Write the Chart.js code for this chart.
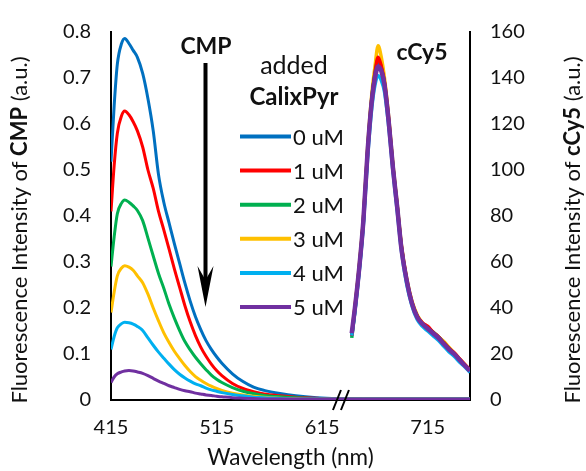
<!DOCTYPE html>
<html>
<head>
<meta charset="utf-8">
<script src="https://cdn.jsdelivr.net/npm/chart.js@4.4.0/dist/chart.umd.min.js"></script>
<style>
html,body{margin:0;padding:0;background:#fff;}
#wrap{position:relative;width:586px;height:471px;}
</style>
</head>
<body>
<div id="wrap"><canvas id="c" width="586" height="471"></canvas></div>
<script>
// ---- Data ----
const concLabels = ['0 uM', '1 uM', '2 uM', '3 uM', '4 uM', '5 uM'];
const colors = ['#0070C0', '#FF0000', '#00B050', '#FFC000', '#00B0F0', '#7030A0'];

// CMP emission (left axis)
const cmpWl = [415, 418, 421, 425, 428, 432, 436, 440, 445, 450, 455, 460, 465, 470, 475, 480, 485, 490, 495, 500, 505, 510, 515, 520, 530, 540, 550, 560, 575, 590, 610, 630, 660, 700, 755];
const cmp0uM = [0.518, 0.64, 0.73, 0.775, 0.786, 0.775, 0.76, 0.745, 0.71, 0.655, 0.585, 0.49, 0.43, 0.385, 0.34, 0.297, 0.254, 0.215, 0.181, 0.153, 0.129, 0.11, 0.094, 0.08, 0.057, 0.04, 0.028, 0.021, 0.014, 0.009, 0.005, 0.003, 0.002, 0.002, 0.002];
const cmp1uM = [0.41, 0.51, 0.58, 0.618, 0.628, 0.62, 0.605, 0.585, 0.55, 0.5, 0.46, 0.41, 0.37, 0.328, 0.285, 0.245, 0.205, 0.17, 0.14, 0.115, 0.095, 0.078, 0.064, 0.053, 0.036, 0.025, 0.018, 0.013, 0.009, 0.006, 0.004, 0.002, 0.002, 0.002, 0.002];
const cmp2uM = [0.29, 0.355, 0.405, 0.428, 0.435, 0.43, 0.422, 0.412, 0.39, 0.352, 0.313, 0.275, 0.243, 0.208, 0.178, 0.151, 0.127, 0.109, 0.093, 0.079, 0.066, 0.054, 0.045, 0.038, 0.027, 0.019, 0.014, 0.01, 0.007, 0.005, 0.003, 0.002, 0.002, 0.002, 0.002];
const cmp3uM = [0.19, 0.235, 0.27, 0.287, 0.292, 0.289, 0.282, 0.27, 0.255, 0.23, 0.2, 0.172, 0.146, 0.125, 0.106, 0.09, 0.075, 0.062, 0.051, 0.043, 0.036, 0.03, 0.025, 0.021, 0.015, 0.011, 0.008, 0.006, 0.004, 0.003, 0.002, 0.002, 0.002, 0.002, 0.002];
const cmp4uM = [0.11, 0.138, 0.157, 0.166, 0.169, 0.168, 0.165, 0.16, 0.151, 0.135, 0.119, 0.104, 0.091, 0.078, 0.066, 0.056, 0.048, 0.041, 0.035, 0.031, 0.026, 0.022, 0.019, 0.016, 0.012, 0.009, 0.006, 0.005, 0.003, 0.002, 0.002, 0.002, 0.002, 0.002, 0.002];
const cmp5uM = [0.038, 0.05, 0.057, 0.061, 0.063, 0.064, 0.063, 0.061, 0.058, 0.053, 0.047, 0.041, 0.036, 0.031, 0.027, 0.023, 0.02, 0.018, 0.015, 0.013, 0.011, 0.01, 0.008, 0.007, 0.005, 0.004, 0.003, 0.002, 0.002, 0.002, 0.002, 0.002, 0.002, 0.002, 0.002];

// cCy5 emission (right axis)
const cy5Wl = [643, 646, 650, 654, 658, 662, 665, 668, 671, 674, 678, 682, 686, 690, 695, 700, 705, 710, 715, 720, 725, 730, 735, 740, 745, 750, 755];
const cy5_0uM = [28, 39, 56, 77, 107, 130, 141, 147, 144, 137, 121, 101, 84, 66.5, 52, 42, 36, 33, 31, 29, 27, 24.5, 22, 20, 17.5, 15, 12.5];
const cy5_1uM = [28, 40, 57, 78, 108, 131, 142, 149, 145, 138, 122, 101.5, 84.5, 67, 52.5, 42.5, 36.5, 33.5, 32, 29.5, 27.5, 25, 22.5, 20.5, 18, 15.5, 13];
const cy5_2uM = [27, 39, 57, 78, 108, 131, 142, 148, 144.5, 137.5, 121.5, 101.5, 84.5, 66.5, 52, 42, 36.5, 33, 31.5, 29.5, 27.5, 25, 22.5, 20, 17.5, 15, 12.7];
const cy5_3uM = [29, 40.5, 58, 79, 109.5, 133, 145, 154, 149, 140, 123, 102.5, 85.5, 67.5, 53, 43, 37, 33.5, 31.5, 29.5, 27.5, 25.5, 23, 20.5, 18, 15.5, 13];
const cy5_4uM = [28, 38.5, 55.5, 76, 105, 127, 137, 141, 139, 134, 119, 99.5, 82.5, 65, 50.5, 41, 35, 32, 30, 28, 26, 23.5, 21, 19, 16.5, 14.5, 12];
const cy5_5uM = [29, 40, 57, 78, 108, 130, 140, 145, 143, 137, 121, 101, 84, 66, 52, 42, 36, 33, 31, 29, 27, 24.5, 22, 20, 17.5, 15, 12.7];

const xTicks = [415, 515, 615, 715];
const leftTickStep = 0.1;
const rightTickStep = 20;

// ---- Build datasets ----
const cmpSeries = [cmp0uM, cmp1uM, cmp2uM, cmp3uM, cmp4uM, cmp5uM];
const cy5Series = [cy5_0uM, cy5_1uM, cy5_2uM, cy5_3uM, cy5_4uM, cy5_5uM];
const rightOrder = [3, 2, 4, 5, 1, 0];
const datasets = [];
cmpSeries.forEach((vals, i) => {
  datasets.push({
    label: concLabels[i],
    data: cmpWl.map((x, j) => ({x: x, y: vals[j]})),
    yAxisID: 'y', borderColor: colors[i], borderWidth: 3,
    pointRadius: 0, tension: 0.4, cubicInterpolationMode: 'monotone', fill: false,
    order: 10 + (5 - i)
  });
});
cy5Series.forEach((vals, i) => {
  datasets.push({
    label: concLabels[i] + ' cCy5',
    data: cy5Wl.map((x, j) => ({x: x, y: vals[j]})),
    yAxisID: 'y1', borderColor: colors[i], borderWidth: i === 5 ? 4.5 : 3.5,
    pointRadius: 0, tension: 0.4, cubicInterpolationMode: 'monotone', fill: false,
    order: rightOrder[i]
  });
});

const FONT = 'Lato, "Open Sans", sans-serif';
const TXT = '#111';

function drawMixed(ctx, parts, cx, cy, rot, size) {
  ctx.save();
  ctx.translate(cx, cy);
  ctx.rotate(rot);
  ctx.textBaseline = 'middle';
  ctx.textAlign = 'left';
  let total = 0;
  parts.forEach(p => { ctx.font = (p.b ? 'bold ' : '') + size + 'px ' + FONT; total += ctx.measureText(p.t).width; });
  let x = -total / 2;
  parts.forEach(p => {
    ctx.font = (p.b ? 'bold ' : '') + size + 'px ' + FONT;
    ctx.fillStyle = TXT;
    ctx.fillText(p.t, x, 0);
    x += ctx.measureText(p.t).width;
  });
  ctx.restore();
}

const annotate = {
  id: 'annotate',
  afterDraw(chart) {
    const ctx = chart.ctx;
    const xs = chart.scales.x, ys = chart.scales.y;
    // axis titles
    drawMixed(ctx, [{t: 'Fluorescence Intensity of '}, {t: 'CMP', b: true}, {t: ' (a.u.)'}], 20, 230, -Math.PI / 2, 22);
    drawMixed(ctx, [{t: 'Fluorescence Intensity of '}, {t: 'cCy5', b: true}, {t: ' (a.u.)'}], 573, 230, -Math.PI / 2, 22);
    // annotations
    ctx.save();
    ctx.fillStyle = TXT;
    ctx.textAlign = 'center';
    ctx.textBaseline = 'middle';
    ctx.font = 'bold 23px ' + FONT;
    ctx.fillText('CMP', 206, 47);
    ctx.fillText('cCy5', 422, 53);
    ctx.font = '25px ' + FONT;
    ctx.fillText('added', 294, 66);
    ctx.font = 'bold 24px ' + FONT;
    ctx.fillText('CalixPyr', 294, 97);
    // arrow
    ctx.strokeStyle = '#000';
    ctx.lineWidth = 4;
    ctx.beginPath();
    ctx.moveTo(205.5, 63);
    ctx.lineTo(205.5, 285);
    ctx.stroke();
    ctx.fillStyle = '#000';
    ctx.beginPath();
    ctx.moveTo(205.5, 307);
    ctx.lineTo(197.5, 266);
    ctx.lineTo(205.5, 280);
    ctx.lineTo(213.5, 266);
    ctx.closePath();
    ctx.fill();
    // legend
    ctx.textAlign = 'left';
    ctx.font = '22px ' + FONT;
    concLabels.forEach((lab, i) => {
      const y = 136.5 + i * 34.1;
      ctx.strokeStyle = colors[i];
      ctx.lineWidth = 4;
      ctx.beginPath();
      ctx.moveTo(240, y);
      ctx.lineTo(291, y);
      ctx.stroke();
      ctx.fillStyle = TXT;
      ctx.fillText(lab, 293, y + 1);
    });
    // axis break marks
    ctx.strokeStyle = '#000';
    ctx.lineWidth = 2;
    const bx = xs.getPixelForValue(629);
    const by = ys.getPixelForValue(0);
    [0, 8].forEach(dx => {
      ctx.beginPath();
      ctx.moveTo(bx - 4 + dx, by + 10);
      ctx.lineTo(bx + 4 + dx, by - 10);
      ctx.stroke();
    });
    ctx.restore();
  }
};

new Chart(document.getElementById('c'), {
  type: 'line',
  data: {datasets: datasets},
  options: {
    responsive: false,
    animation: false,
    events: [],
    layout: {padding: {top: 21, left: 0, right: 0, bottom: 0}},
    plugins: {legend: {display: false}, tooltip: {enabled: false}},
    scales: {
      x: {
        type: 'linear', min: 415, max: 755,
        afterBuildTicks: axis => { axis.ticks = xTicks.map(v => ({value: v})); },
        afterFit: s => { s.height = 71; },
        grid: {display: false, drawTicks: false},
        border: {display: true, color: '#000', width: 2},
        ticks: {color: TXT, font: {family: FONT, size: 20}, padding: 16, maxRotation: 0, autoSkip: false},
        title: {display: true, text: 'Wavelength (nm)', color: TXT, font: {family: FONT, size: 22.5}, padding: {top: 0, bottom: 0}}
      },
      y: {
        type: 'linear', position: 'left', min: 0, max: 0.8,
        afterFit: s => { s.width = 111; },
        grid: {display: false, drawTicks: false},
        border: {display: true, color: '#000', width: 2},
        ticks: {stepSize: leftTickStep, color: TXT, font: {family: FONT, size: 20}, padding: 20,
          callback: v => (Math.round(v * 10) / 10).toString()}
      },
      y1: {
        type: 'linear', position: 'right', min: 0, max: 160,
        afterFit: s => { s.width = 116; },
        grid: {display: false, drawTicks: false},
        border: {display: true, color: '#000', width: 2},
        ticks: {stepSize: rightTickStep, color: TXT, font: {family: FONT, size: 20}, padding: 20}
      }
    }
  },
  plugins: [annotate]
});
</script>
</body>
</html>
